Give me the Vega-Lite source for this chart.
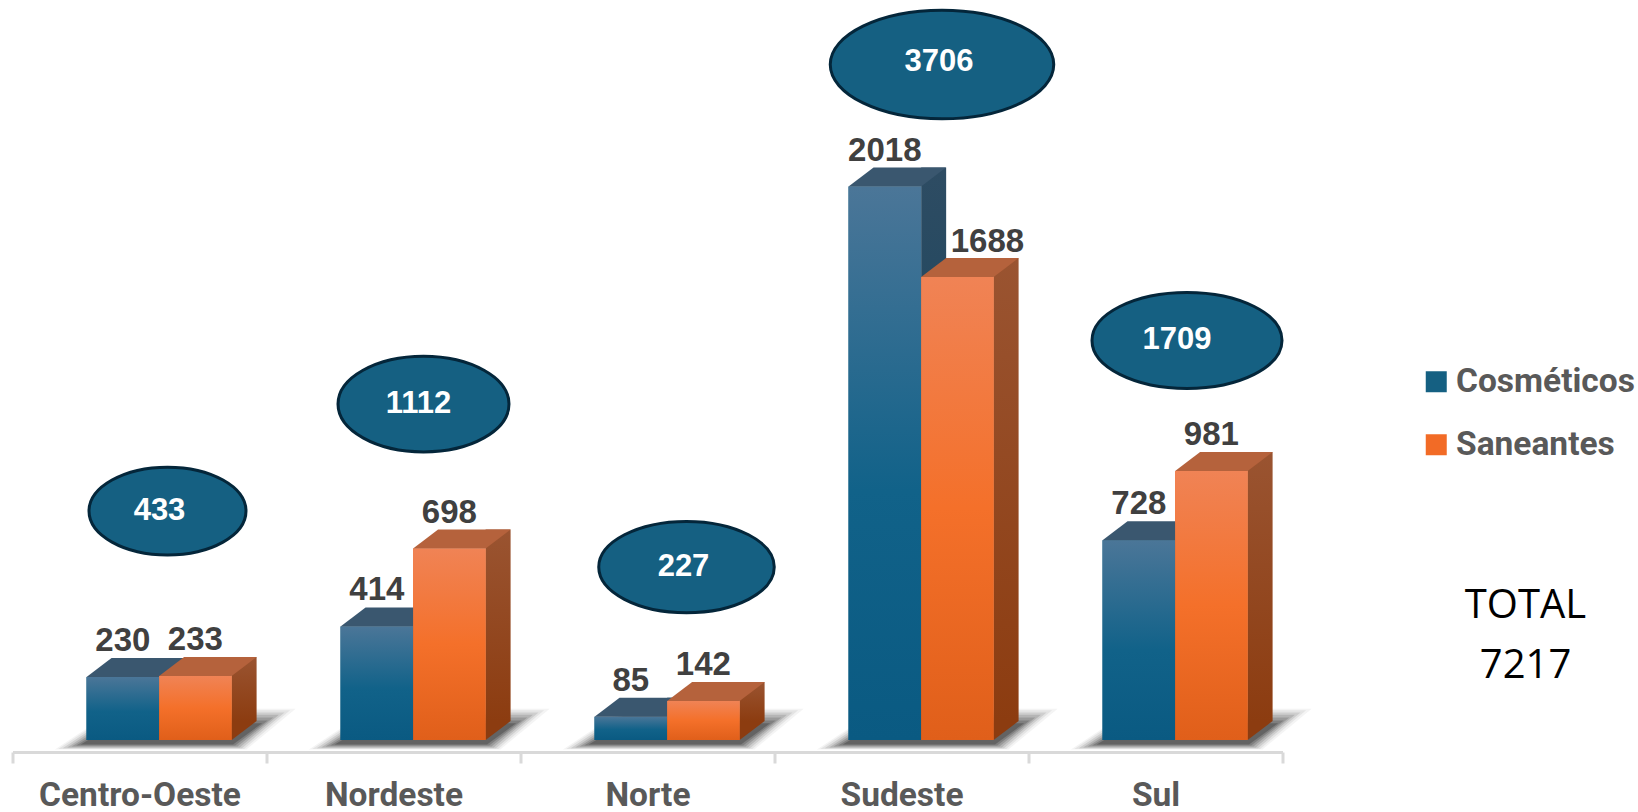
{
"$schema":"https://vega.github.io/schema/vega-lite/v6.json",
"autosize":{"type":"none"},
"padding":{"left":12.5,"right":355.5,"top":0,"bottom":72},
"width":1270,"height":740,
"background":"white",
"view":{"stroke":null},
"title":{"text":["TOTAL","7217"],"anchor":"middle","align":"center","dx":878,"dy":686,"lineHeight":60,"fontSize":40,"fontWeight":"normal","font":"Open Sans","color":"#000000","offset":0},
"datasets":{
"barras":[
{"regiao":"Centro-Oeste","categoria":"Cosméticos","qtd":230},
{"regiao":"Centro-Oeste","categoria":"Saneantes","qtd":233},
{"regiao":"Nordeste","categoria":"Cosméticos","qtd":414},
{"regiao":"Nordeste","categoria":"Saneantes","qtd":698},
{"regiao":"Norte","categoria":"Cosméticos","qtd":85},
{"regiao":"Norte","categoria":"Saneantes","qtd":142},
{"regiao":"Sudeste","categoria":"Cosméticos","qtd":2018},
{"regiao":"Sudeste","categoria":"Saneantes","qtd":1688},
{"regiao":"Sul","categoria":"Cosméticos","qtd":728},
{"regiao":"Sul","categoria":"Saneantes","qtd":981}],
"totais":[
{"regiao":"Centro-Oeste","total":433,"maior":233},
{"regiao":"Nordeste","total":1112,"maior":698},
{"regiao":"Norte","total":227,"maior":142},
{"regiao":"Sudeste","total":3706,"maior":2018},
{"regiao":"Sul","total":1709,"maior":981}]
},
"data":{"name":"barras"},
"encoding":{
"x":{"field":"regiao","type":"nominal","scale":{"type":"band","domain":["Centro-Oeste","Nordeste","Norte","Sudeste","Sul"],"paddingInner":0,"paddingOuter":0},
"axis":{"title":null,"labelAngle":0,"offset":12,"domainColor":"#d9d9d9","domainWidth":3,"tickColor":"#d9d9d9","tickWidth":3,"tickSize":11,"tickBand":"extent","labelFont":"Roboto","labelFontWeight":"bold","labelFontSize":33.5,"labelLimit":0,"labelColor":"#595959","labelPadding":16,"labelBaseline":"top"}},
"y":{"type":"quantitative","field":"qtd","scale":{"domain":[0,2698],"nice":false},"axis":null}
},
"layer":[
{"transform":[{"filter":"datum.categoria==='Cosméticos'"}],"encoding":{"y":{"datum":0}},"layer":[
{"mark":{"type":"point","filled":true,"opacity":0.05,"color":"#303030","shape":"M-1.05,0.085L0.66,0.085L1.1,-0.28L-0.5,-0.28Z","size":50176,"xOffset":33}},
{"mark":{"type":"point","filled":true,"opacity":0.08,"color":"#303030","shape":"M-1.02,0.08L0.64,0.08L1.05,-0.265L-0.5,-0.265Z","size":50176,"xOffset":33}},
{"mark":{"type":"point","filled":true,"opacity":0.12,"color":"#303030","shape":"M-0.98,0.073L0.62,0.073L1,-0.245L-0.5,-0.245Z","size":50176,"xOffset":33}},
{"mark":{"type":"point","filled":true,"opacity":0.16,"color":"#303030","shape":"M-0.94,0.066L0.6,0.066L0.95,-0.225L-0.5,-0.225Z","size":50176,"xOffset":33}},
{"mark":{"type":"point","filled":true,"opacity":0.2,"color":"#303030","shape":"M-0.9,0.058L0.58,0.058L0.9,-0.2L-0.5,-0.2Z","size":50176,"xOffset":33}},
{"mark":{"type":"point","filled":true,"opacity":0.25,"color":"#303030","shape":"M-0.86,0.05L0.56,0.05L0.85,-0.175L-0.5,-0.175Z","size":50176,"xOffset":33}},
{"mark":{"type":"point","filled":true,"opacity":0.35,"color":"#303030","shape":"M-0.82,0.04L0.54,0.04L0.8,-0.15L-0.5,-0.15Z","size":50176,"xOffset":33}}
]},
{"mark":{"type":"bar"},
"encoding":{"xOffset":{"field":"categoria","type":"nominal","scale":{"domain":["Cosméticos","Saneantes"],"paddingInner":0,"paddingOuter":0.75,"align":0.68}},
"color":{"field":"categoria","type":"nominal","scale":{"domain":["Cosméticos","Saneantes"],"range":["#156082","#f26b26"]},
"legend":{"title":null,"orient":"none","legendX":1407,"legendY":365,"symbolType":"square","symbolSize":441,"symbolStrokeWidth":0,"labelFont":"Roboto","labelFontWeight":"bold","labelFontSize":33.5,"labelLimit":400,"labelColor":"#595959","labelOffset":3,"rowPadding":28,"padding":0}}}},
{"transform":[{"filter":"datum.categoria==='Cosméticos'"}],
"layer":[
{"mark":{"type":"bar","width":25,"xOffset":32.15,"yOffset":-19,"color":{"gradient":"linear","x1":0,"x2":0,"y1":0,"y2":1,"stops":[{"offset":0,"color":"#2e4c63"},{"offset":1,"color":"#0a4059"}]}}},
{"mark":{"type":"point","filled":true,"opacity":1,"xOffset":-16.6,"color":"#0a4059","size":15006,"shape":"M0.592,0L1,-0.31L0.592,-0.31Z"},"encoding":{"y":{"datum":0}}},
{"mark":{"type":"bar","color":{"gradient":"linear","x1":0,"x2":0,"y1":0,"y2":1,"stops":[{"offset":0,"color":"#4b7698"},{"offset":0.55,"color":"#116289"},{"offset":1,"color":"#0a5a82"}]}},"encoding":{"xOffset":{"field":"categoria","type":"nominal"}}},
{"mark":{"type":"point","filled":true,"opacity":1,"color":"#3a576f","size":15006,"shape":"M-0.592,0L0.592,0L1,-0.31L-0.184,-0.31Z"},"encoding":{"xOffset":{"field":"categoria","type":"nominal"}}}
]},
{"transform":[{"filter":"datum.categoria==='Saneantes'"}],
"layer":[
{"mark":{"type":"bar","width":25,"xOffset":104.6,"yOffset":-19,"color":{"gradient":"linear","x1":0,"x2":0,"y1":0,"y2":1,"stops":[{"offset":0,"color":"#9a5431"},{"offset":1,"color":"#8c3c10"}]}}},
{"mark":{"type":"point","filled":true,"opacity":1,"xOffset":55.85,"color":"#8c3c10","size":15006,"shape":"M0.592,0L1,-0.31L0.592,-0.31Z"},"encoding":{"y":{"datum":0}}},
{"mark":{"type":"bar","color":{"gradient":"linear","x1":0,"x2":0,"y1":0,"y2":1,"stops":[{"offset":0,"color":"#f08355"},{"offset":0.5,"color":"#f4702a"},{"offset":1,"color":"#e05f1a"}]}},"encoding":{"xOffset":{"field":"categoria","type":"nominal"}}},
{"mark":{"type":"point","filled":true,"opacity":1,"color":"#b5623c","size":15006,"shape":"M-0.592,0L0.592,0L1,-0.31L-0.184,-0.31Z"},"encoding":{"xOffset":{"field":"categoria","type":"nominal"}}}
]},
{"transform":[{"filter":"datum.qtd!==1688"}],"mark":{"type":"text","dy":-36,"font":"Liberation Sans","fontWeight":"bold","fontSize":33,"color":"#404040"},
"encoding":{"xOffset":{"field":"categoria","type":"nominal"},"text":{"field":"qtd","type":"quantitative"}}},
{"transform":[{"filter":"datum.qtd===1688"}],"mark":{"type":"text","dy":-35,"dx":30,"font":"Liberation Sans","fontWeight":"bold","fontSize":33,"color":"#404040"},
"encoding":{"xOffset":{"field":"categoria","type":"nominal"},"text":{"field":"qtd","type":"quantitative"}}},
{"data":{"name":"totais"},"encoding":{"y":{"field":"maior","type":"quantitative"}},"layer":[
{"transform":[{"filter":"datum.regiao==='Centro-Oeste'"}],"layer":[
{"mark":{"type":"point","filled":true,"opacity":1,"fill":"#156082","stroke":"#04263a","strokeWidth":3,"size":24649,"xOffset":28,"yOffset":-165,"shape":"M-1,0A1,0.56 0 1,1 1,0A1,0.56 0 1,1 -1,0Z"}},
{"mark":{"type":"text","xOffset":28,"yOffset":-165,"dx":-8,"font":"Liberation Sans","fontWeight":"bold","fontSize":31,"color":"#ffffff"},"encoding":{"text":{"field":"total","type":"quantitative"}}}]},
{"transform":[{"filter":"datum.regiao==='Nordeste'"}],"layer":[
{"mark":{"type":"point","filled":true,"opacity":1,"fill":"#156082","stroke":"#04263a","strokeWidth":3,"size":29241,"xOffset":30,"yOffset":-144.5,"shape":"M-1,0A1,0.56 0 1,1 1,0A1,0.56 0 1,1 -1,0Z"}},
{"mark":{"type":"text","xOffset":30,"yOffset":-144.5,"dx":-5,"font":"Liberation Sans","fontWeight":"bold","fontSize":31,"color":"#ffffff"},"encoding":{"text":{"field":"total","type":"quantitative"}}}]},
{"transform":[{"filter":"datum.regiao==='Norte'"}],"layer":[
{"mark":{"type":"point","filled":true,"opacity":1,"fill":"#156082","stroke":"#04263a","strokeWidth":3,"size":30800,"xOffset":39,"yOffset":-134,"shape":"M-1,0A1,0.52 0 1,1 1,0A1,0.52 0 1,1 -1,0Z"}},
{"mark":{"type":"text","xOffset":39,"yOffset":-134,"dx":-3,"font":"Liberation Sans","fontWeight":"bold","fontSize":31,"color":"#ffffff"},"encoding":{"text":{"field":"total","type":"quantitative"}}}]},
{"transform":[{"filter":"datum.regiao==='Sudeste'"}],"layer":[
{"mark":{"type":"point","filled":true,"opacity":1,"fill":"#156082","stroke":"#04263a","strokeWidth":3,"size":49952,"xOffset":40.5,"yOffset":-122,"shape":"M-1,0A1,0.486 0 1,1 1,0A1,0.486 0 1,1 -1,0Z"}},
{"mark":{"type":"text","xOffset":40.5,"yOffset":-125,"dx":-3,"font":"Liberation Sans","fontWeight":"bold","fontSize":31,"color":"#ffffff"},"encoding":{"text":{"field":"total","type":"quantitative"}}}]},
{"transform":[{"filter":"datum.regiao==='Sul'"}],"layer":[
{"mark":{"type":"point","filled":true,"opacity":1,"fill":"#156082","stroke":"#04263a","strokeWidth":3,"size":36100,"xOffset":31.5,"yOffset":-130.5,"shape":"M-1,0A1,0.505 0 1,1 1,0A1,0.505 0 1,1 -1,0Z"}},
{"mark":{"type":"text","xOffset":31.5,"yOffset":-130.5,"dx":-10,"font":"Liberation Sans","fontWeight":"bold","fontSize":31,"color":"#ffffff"},"encoding":{"text":{"field":"total","type":"quantitative"}}}]}
]}
]
}
